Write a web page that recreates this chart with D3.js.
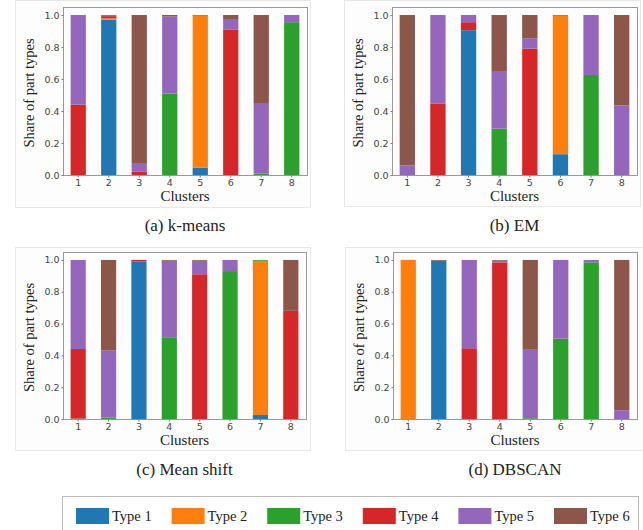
<!DOCTYPE html>
<html>
<head>
<meta charset="UTF-8">
<title>Cluster composition</title>
<script src="https://d3js.org/d3.v7.min.js"></script>
<style>
    * { margin: 0; padding: 0; box-sizing: border-box; }
    body { background: #fff; }
    .tick text { font-family: "DejaVu Sans", sans-serif; font-size: 9.5px; fill: #444; }
    .serif { font-family: "Liberation Serif", "Times New Roman", serif; fill: #222; }
</style>
</head>
<body>
<div id="chart"></div>
<script>
    const clusters = ["1", "2", "3", "4", "5", "6", "7", "8"];
    const types = ["Type 1", "Type 2", "Type 3", "Type 4", "Type 5", "Type 6"];
    const colors = ["#1f77b4", "#ff7f0e", "#2ca02c", "#d62728", "#9467bd", "#8c564b"];
    const yTicks = [0, 0.2, 0.4, 0.6, 0.8, 1.0];

    // share of each part type per cluster (Type 1 .. Type 6)
    const kmeans = [
        [0, 0, 0, 0.44, 0.56, 0],
        [0.97, 0.01, 0, 0.013, 0.007, 0],
        [0, 0, 0, 0.02, 0.05, 0.93],
        [0, 0, 0.51, 0, 0.48, 0.01],
        [0.045, 0.95, 0.005, 0, 0, 0],
        [0, 0, 0, 0.91, 0.065, 0.025],
        [0, 0, 0.01, 0, 0.435, 0.555],
        [0, 0, 0.955, 0, 0.045, 0]
    ];
    const em = [
        [0, 0, 0, 0, 0.06, 0.94],
        [0, 0, 0, 0.445, 0.555, 0],
        [0.905, 0, 0, 0.05, 0.045, 0],
        [0, 0, 0.29, 0, 0.36, 0.35],
        [0, 0, 0, 0.79, 0.065, 0.145],
        [0.13, 0.865, 0.005, 0, 0, 0],
        [0, 0, 0.625, 0, 0.375, 0],
        [0, 0, 0, 0, 0.435, 0.565]
    ];
    const meanShift = [
        [0.003, 0, 0, 0.437, 0.56, 0],
        [0, 0, 0.01, 0, 0.42, 0.57],
        [0.99, 0, 0, 0.01, 0, 0],
        [0, 0, 0.51, 0, 0.485, 0.005],
        [0, 0, 0, 0.91, 0.085, 0.005],
        [0, 0, 0.93, 0, 0.07, 0],
        [0.025, 0.97, 0.005, 0, 0, 0],
        [0, 0, 0, 0.68, 0, 0.32]
    ];
    const dbscan = [
        [0, 1.0, 0, 0, 0, 0],
        [0.995, 0, 0, 0, 0, 0.005],
        [0, 0, 0, 0.445, 0.555, 0],
        [0, 0, 0, 0.985, 0.01, 0.005],
        [0, 0, 0.005, 0, 0.43, 0.565],
        [0, 0, 0.505, 0, 0.495, 0],
        [0, 0, 0.985, 0, 0.015, 0],
        [0, 0, 0, 0, 0.055, 0.945]
    ];

    const panels = [
        { data: kmeans, caption: "(a) k-means", left: 63, right: 307, top: 7, zero: 175, frame: [15, 0, 295, 207] },
        { data: em, caption: "(b) EM", left: 392, right: 637, top: 7, zero: 175, frame: [344, 0, 296, 206] },
        { data: meanShift, caption: "(c) Mean shift", left: 63, right: 306, top: 252, zero: 419, frame: [15, 247, 295, 203] },
        { data: dbscan, caption: "(d) DBSCAN", left: 393, right: 637, top: 252, zero: 419, frame: [345, 247, 300, 203] }
    ];

    const svg = d3.select("#chart")
        .append("svg")
        .attr("width", 643)
        .attr("height", 530);

    const stack = d3.stack().keys(d3.range(types.length));

    panels.forEach(p => {
        // faint outline of the original figure image
        svg.append("rect")
            .attr("x", p.frame[0] + 0.5)
            .attr("y", p.frame[1] + 0.5)
            .attr("width", p.frame[2])
            .attr("height", p.frame[3])
            .attr("fill", "#fdfdfd")
            .attr("stroke", "#e8e8e8");

        const x = d3.scaleBand()
            .domain(clusters)
            .range([p.left, p.right])
            .paddingInner(0.5)
            .paddingOuter(0.25);

        // 0 on the x axis, 1.05 at the top of the frame
        const y = d3.scaleLinear()
            .domain([0, 1.05])
            .range([p.zero, p.top]);

        const g = svg.append("g");
        const series = stack(p.data.map(r => Object.assign({}, r)));

        g.selectAll(".layer")
            .data(series)
            .join("g")
            .attr("fill", (d, i) => colors[i])
            .selectAll("rect")
            .data(d => d)
            .join("rect")
            .attr("x", (d, i) => x(clusters[i]))
            .attr("width", x.bandwidth())
            .attr("y", d => y(d[1]))
            .attr("height", d => y(d[0]) - y(d[1]));

        g.append("rect")
            .attr("x", p.left + 0.5)
            .attr("y", p.top + 0.5)
            .attr("width", p.right - p.left)
            .attr("height", p.zero - p.top)
            .attr("fill", "none")
            .attr("stroke", "#999");

        const xAxis = g.append("g")
            .attr("transform", `translate(0, ${p.zero + 0.5})`)
            .call(d3.axisBottom(x).tickSize(2).tickPadding(2));
        const yAxis = g.append("g")
            .attr("transform", `translate(${p.left + 0.5}, 0)`)
            .call(d3.axisLeft(y).tickValues(yTicks).tickFormat(d3.format(".1f")).tickSize(2).tickPadding(2));
        [xAxis, yAxis].forEach(a => {
            a.select(".domain").remove();
            a.selectAll(".tick line").attr("stroke", "#777");
        });

        const cx = (p.left + p.right) / 2;
        g.append("text")
            .attr("class", "serif")
            .attr("x", cx)
            .attr("y", p.zero + 26)
            .attr("text-anchor", "middle")
            .style("font-size", "15px")
            .text("Clusters");

        g.append("text")
            .attr("class", "serif")
            .attr("transform", `translate(${p.left - 29}, ${(p.top + p.zero) / 2 + 2}) rotate(-90)`)
            .attr("text-anchor", "middle")
            .style("font-size", "14.5px")
            .text("Share of part types");

        svg.append("text")
            .attr("class", "serif")
            .attr("x", cx)
            .attr("y", p.zero + 56)
            .attr("text-anchor", "middle")
            .style("font-size", "17px")
            .text(p.caption);
    });

    // legend
    const legend = svg.append("g");
    legend.append("rect")
        .attr("x", 62.5)
        .attr("y", 496.5)
        .attr("width", 576)
        .attr("height", 40)
        .attr("fill", "#fff")
        .attr("stroke", "#bbb");

    types.forEach((t, i) => {
        const lx = 76 + i * 95.6;
        legend.append("rect")
            .attr("x", lx)
            .attr("y", 508)
            .attr("width", 33)
            .attr("height", 16)
            .attr("fill", colors[i]);
        legend.append("text")
            .attr("class", "serif")
            .attr("x", lx + 36)
            .attr("y", 521)
            .style("font-size", "14.5px")
            .text(t);
    });
</script>
</body>
</html>
